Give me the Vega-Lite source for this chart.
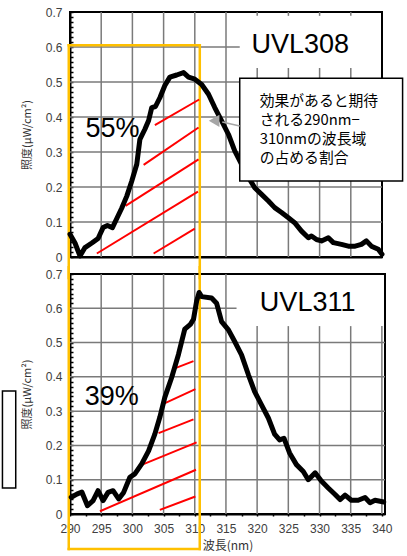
{
  "$schema": "https://vega.github.io/schema/vega-lite/v6.json",
  "padding": {"left": 0, "top": 5, "right": 0, "bottom": 0},
  "spacing": 17,
  "bounds": "flush",
  "config": {
    "font": "Liberation Sans",
    "view": {"stroke": "#000", "strokeWidth": 2},
    "axis": {
      "domainColor": "#000", "domainWidth": 2, "grid": false, "zindex": 1,
      "labelColor": "#404040", "labelFontSize": 12, "labelFont": "Liberation Sans",
      "tickColor": "#000"
    }
  },
  "datasets": {
    "gridTop": [
      {"nm":295,"v":0,"nm2":295,"v2":0.7},{"nm":300,"v":0,"nm2":300,"v2":0.7},{"nm":305,"v":0,"nm2":305,"v2":0.7},{"nm":310,"v":0,"nm2":310,"v2":0.7},{"nm":315,"v":0,"nm2":315,"v2":0.7},
      {"nm":320,"v":0,"nm2":320,"v2":0.54},{"nm":325,"v":0,"nm2":325,"v2":0.54},{"nm":330,"v":0,"nm2":330,"v2":0.54},{"nm":335,"v":0,"nm2":335,"v2":0.54},
      {"nm":320,"v":0.689,"nm2":320,"v2":0.7},{"nm":325,"v":0.689,"nm2":325,"v2":0.7},{"nm":330,"v":0.689,"nm2":330,"v2":0.7},{"nm":335,"v":0.689,"nm2":335,"v2":0.7},
      {"nm":290,"v":0.1,"nm2":340,"v2":0.1},{"nm":290,"v":0.2,"nm2":340,"v2":0.2},{"nm":290,"v":0.3,"nm2":340,"v2":0.3},{"nm":290,"v":0.4,"nm2":340,"v2":0.4},{"nm":290,"v":0.5,"nm2":340,"v2":0.5},{"nm":290,"v":0.6,"nm2":317.2,"v2":0.6}
    ],
    "gridBot": [
      {"nm":295,"v":0,"nm2":295,"v2":0.7},{"nm":300,"v":0,"nm2":300,"v2":0.7},{"nm":305,"v":0,"nm2":305,"v2":0.7},{"nm":310,"v":0,"nm2":310,"v2":0.7},{"nm":315,"v":0,"nm2":315,"v2":0.7},
      {"nm":320,"v":0,"nm2":320,"v2":0.548},{"nm":325,"v":0,"nm2":325,"v2":0.548},{"nm":330,"v":0,"nm2":330,"v2":0.548},{"nm":335,"v":0,"nm2":335,"v2":0.548},{"nm":340,"v":0,"nm2":340,"v2":0.548},
      {"nm":290,"v":0.1,"nm2":340.5,"v2":0.1},{"nm":290,"v":0.2,"nm2":340.5,"v2":0.2},{"nm":290,"v":0.3,"nm2":340.5,"v2":0.3},{"nm":290,"v":0.4,"nm2":340.5,"v2":0.4},{"nm":290,"v":0.5,"nm2":340.5,"v2":0.5},{"nm":290,"v":0.6,"nm2":316.7,"v2":0.6}
    ],
    "top": [
      {"nm":290,"v":0.065},{"nm":290.8,"v":0.04},{"nm":291.6,"v":0.003},{"nm":292.4,"v":0.027},{"nm":293.5,"v":0.04},{"nm":294.5,"v":0.053},{"nm":295.3,"v":0.084},{"nm":296,"v":0.09},{"nm":296.8,"v":0.084},{"nm":297.5,"v":0.11},{"nm":298.3,"v":0.14},{"nm":299.1,"v":0.174},{"nm":299.9,"v":0.217},{"nm":300.7,"v":0.265},{"nm":301.2,"v":0.336},{"nm":302,"v":0.365},{"nm":302.6,"v":0.39},{"nm":303.1,"v":0.427},{"nm":303.7,"v":0.43},{"nm":304.4,"v":0.455},{"nm":305.2,"v":0.49},{"nm":306,"v":0.514},{"nm":307.1,"v":0.52},{"nm":308.2,"v":0.527},{"nm":309,"v":0.514},{"nm":310,"v":0.508},{"nm":311.1,"v":0.493},{"nm":312.2,"v":0.465},{"nm":313.2,"v":0.427},{"nm":314.3,"v":0.389},{"nm":315.4,"v":0.35},{"nm":316.4,"v":0.303},{"nm":317.5,"v":0.265},{"nm":318.6,"v":0.227},{"nm":319.6,"v":0.198},{"nm":320.7,"v":0.179},{"nm":321.8,"v":0.16},{"nm":322.8,"v":0.141},{"nm":323.9,"v":0.127},{"nm":325,"v":0.112},{"nm":326,"v":0.098},{"nm":327.1,"v":0.074},{"nm":328.2,"v":0.055},{"nm":328.7,"v":0.06},{"nm":329.5,"v":0.05},{"nm":330.3,"v":0.046},{"nm":331.4,"v":0.055},{"nm":332.2,"v":0.041},{"nm":333.5,"v":0.036},{"nm":334.6,"v":0.031},{"nm":335.7,"v":0.031},{"nm":336.7,"v":0.036},{"nm":337.5,"v":0.046},{"nm":338.3,"v":0.031},{"nm":339.4,"v":0.022},{"nm":340,"v":0.008}
    ],
    "bot": [
      {"nm":290.2,"v":0.049},{"nm":291.1,"v":0.058},{"nm":291.9,"v":0.064},{"nm":292.8,"v":0.024},{"nm":293.7,"v":0.039},{"nm":294.5,"v":0.068},{"nm":295.3,"v":0.039},{"nm":296.1,"v":0.063},{"nm":296.9,"v":0.068},{"nm":297.8,"v":0.044},{"nm":298.6,"v":0.063},{"nm":299.6,"v":0.107},{"nm":300.4,"v":0.117},{"nm":301.5,"v":0.146},{"nm":302.6,"v":0.184},{"nm":303.6,"v":0.233},{"nm":304.4,"v":0.282},{"nm":305.2,"v":0.34},{"nm":306.3,"v":0.398},{"nm":307.4,"v":0.466},{"nm":308.4,"v":0.539},{"nm":309.3,"v":0.553},{"nm":309.8,"v":0.568},{"nm":310.3,"v":0.621},{"nm":310.7,"v":0.646},{"nm":311.1,"v":0.634},{"nm":312.7,"v":0.63},{"nm":313.5,"v":0.615},{"nm":314.3,"v":0.561},{"nm":315.4,"v":0.537},{"nm":316.4,"v":0.503},{"nm":317.5,"v":0.464},{"nm":318.6,"v":0.406},{"nm":319.6,"v":0.357},{"nm":320.7,"v":0.318},{"nm":321.8,"v":0.28},{"nm":322.8,"v":0.233},{"nm":323.6,"v":0.216},{"nm":324.3,"v":0.221},{"nm":325.2,"v":0.178},{"nm":326.3,"v":0.144},{"nm":327.4,"v":0.124},{"nm":328.2,"v":0.1},{"nm":329.3,"v":0.12},{"nm":330.3,"v":0.096},{"nm":331.4,"v":0.076},{"nm":332.5,"v":0.057},{"nm":333.3,"v":0.042},{"nm":334.1,"v":0.055},{"nm":335.1,"v":0.04},{"nm":336.2,"v":0.04},{"nm":337.3,"v":0.048},{"nm":338.1,"v":0.033},{"nm":338.9,"v":0.04},{"nm":340.3,"v":0.035}
    ],
    "hatchTop": [
      {"nm":294.3,"v":0.01,"nm2":310.5,"v2":0.187},
      {"nm":303.4,"v":0.01,"nm2":310.0,"v2":0.081},
      {"nm":298.9,"v":0.146,"nm2":310.6,"v2":0.279},
      {"nm":301.8,"v":0.263,"nm2":310.6,"v2":0.37},
      {"nm":303.6,"v":0.377,"nm2":310.7,"v2":0.45}
    ],
    "hatchBot": [
      {"nm":294.8,"v":0.008,"nm2":310.2,"v2":0.129},
      {"nm":304.4,"v":0.012,"nm2":310.1,"v2":0.051},
      {"nm":301.2,"v":0.141,"nm2":310.3,"v2":0.209},
      {"nm":304.2,"v":0.236,"nm2":309.8,"v2":0.276},
      {"nm":304.8,"v":0.32,"nm2":310.1,"v2":0.364},
      {"nm":307.1,"v":0.427,"nm2":309.8,"v2":0.446}
    ],
    "orangeTop": [
      {"nm":289.8,"v":0.605,"nm2":310.8,"v2":0.605},
      {"nm":289.8,"v":0.605,"nm2":289.8,"v2":-0.06},
      {"nm":310.8,"v":0.605,"nm2":310.8,"v2":-0.06}
    ],
    "orangeBot": [
      {"nm":289.8,"v":0.72,"nm2":289.8,"v2":-0.102},
      {"nm":310.8,"v":0.72,"nm2":310.8,"v2":-0.102},
      {"nm":289.8,"v":-0.102,"nm2":310.8,"v2":-0.102}
    ],
    "labelsTop": [
      {"nm":296.8,"v":0.366,"label":"55%"},
      {"nm":326.9,"v":0.607,"label":"UVL308"}
    ],
    "labelsBot": [
      {"nm":296.7,"v":0.341,"label":"39%"},
      {"nm":328.1,"v":0.615,"label":"UVL311"}
    ],
    "callout": [{"nm":317.2,"v":0.217,"nm2":343.3,"v2":0.511}],
    "calloutText": [{"nm":320.4,"v":0.467,"label":"効果があると期待\nされる290nm−\n310nmの波長域\nの占める割合"}],
    "arrowLine": [{"nm":314.4,"v":0.386,"nm2":317.2,"v2":0.374}],
    "arrowHead": [{"nm":313.1,"v":0.389}],
    "fragment": [{"nm":279.17,"v":0.076,"nm2":281.3,"v2":0.359}]
  },
  "vconcat": [
    {
      "width": 312,
      "height": 245,
      "encoding": {
        "x": {"field": "nm", "type": "quantitative",
              "scale": {"domain": [290, 340], "nice": false, "zero": false},
              "axis": {"values": [290,295,300,305,310,315,320,325,330,335,340], "labels": false, "ticks": false, "title": null, "grid": false}},
        "y": {"field": "v", "type": "quantitative",
              "scale": {"domain": [0, 0.7], "nice": false, "zero": false},
              "axis": {
                "values": [0,0.01429,0.02857,0.04286,0.05714,0.07143,0.08571,0.1,0.11429,0.12857,0.14286,0.15714,0.17143,0.18571,0.2,0.21429,0.22857,0.24286,0.25714,0.27143,0.28571,0.3,0.31429,0.32857,0.34286,0.35714,0.37143,0.38571,0.4,0.41429,0.42857,0.44286,0.45714,0.47143,0.48571,0.5,0.51429,0.52857,0.54286,0.55714,0.57143,0.58571,0.6,0.61429,0.62857,0.64286,0.65714,0.67143,0.68571,0.7],
                "labelExpr": "abs(datum.value*10-round(datum.value*10))<0.01 ? format(datum.value,'~g') : ''",
                "grid": false,
                "tickSize": -3, "tickWidth": 1.5,
                "labelOverlap": false, "labelFlush": false, "labelPadding": 11,
                "title": "照度(μW/cm²)", "titleFont": "Noto Sans CJK JP", "titleFontSize": 11, "titleFontWeight": "normal", "titleColor": "#333", "titlePadding": 13
              }}
      },
      "layer": [
        {"data": {"name": "gridTop"}, "mark": {"type": "rule", "color": "#7a7a7a", "strokeWidth": 1.5, "opacity": 1}, "encoding": {"x2": {"field": "nm2"}, "y2": {"field": "v2"}}},
        {"data": {"name": "orangeTop"}, "mark": {"type": "rule", "color": "#FFC000", "strokeWidth": 2.5, "strokeCap": "square"}, "encoding": {"x2": {"field": "nm2"}, "y2": {"field": "v2"}}},
        {"data": {"name": "hatchTop"}, "mark": {"type": "rule", "color": "#FF0000", "strokeWidth": 2}, "encoding": {"x2": {"field": "nm2"}, "y2": {"field": "v2"}}},
        {"data": {"name": "top"}, "mark": {"type": "line", "color": "#000", "strokeWidth": 5, "strokeJoin": "round", "strokeCap": "round"}},
        {"data": {"name": "labelsTop"}, "mark": {"type": "text", "fontSize": 27, "font": "Liberation Sans", "color": "#000", "baseline": "middle", "align": "center"}, "encoding": {"text": {"field": "label"}}},
        {"data": {"name": "callout"}, "mark": {"type": "rect", "fill": "white", "stroke": "#000", "strokeWidth": 1.5}, "encoding": {"x2": {"field": "nm2"}, "y2": {"field": "v2"}}},
        {"data": {"name": "arrowLine"}, "mark": {"type": "rule", "color": "#a6a6a6", "strokeWidth": 1.5}, "encoding": {"x2": {"field": "nm2"}, "y2": {"field": "v2"}}},
        {"data": {"name": "arrowHead"}, "mark": {"type": "point", "shape": "triangle-left", "filled": true, "color": "#a6a6a6", "size": 150, "opacity": 1}},
        {"data": {"name": "calloutText"}, "mark": {"type": "text", "fontSize": 14.8, "font": "Noto Sans CJK JP", "color": "#000", "baseline": "top", "align": "left", "lineBreak": "\n", "lineHeight": 19}, "encoding": {"text": {"field": "label"}}}
      ]
    },
    {
      "width": 315,
      "height": 240,
      "encoding": {
        "x": {"field": "nm", "type": "quantitative",
              "scale": {"domain": [290, 340.5], "nice": false, "zero": false},
              "axis": {
                "values": [290,292.5,295,297.5,300,302.5,305,307.5,310,312.5,315,317.5,320,322.5,325,327.5,330,332.5,335,337.5,340],
                "labelExpr": "datum.value % 5 === 0 ? format(datum.value,'d') : ''",
                "grid": false,
                "tickSize": 2, "tickWidth": 1.5,
                "labelDx": 4, "labelPadding": 7, "labelFlush": false, "labelOverlap": false,
                "title": "波長(nm)", "titleFont": "Noto Sans CJK JP", "titleFontSize": 12, "titleFontWeight": "normal", "titleColor": "#333", "titlePadding": 6
              }},
        "y": {"field": "v", "type": "quantitative",
              "scale": {"domain": [0, 0.7], "nice": false, "zero": false},
              "axis": {
                "values": [0,0.01429,0.02857,0.04286,0.05714,0.07143,0.08571,0.1,0.11429,0.12857,0.14286,0.15714,0.17143,0.18571,0.2,0.21429,0.22857,0.24286,0.25714,0.27143,0.28571,0.3,0.31429,0.32857,0.34286,0.35714,0.37143,0.38571,0.4,0.41429,0.42857,0.44286,0.45714,0.47143,0.48571,0.5,0.51429,0.52857,0.54286,0.55714,0.57143,0.58571,0.6,0.61429,0.62857,0.64286,0.65714,0.67143,0.68571,0.7],
                "labelExpr": "abs(datum.value*10-round(datum.value*10))<0.01 ? format(datum.value,'~g') : ''",
                "grid": false,
                "tickSize": -3, "tickWidth": 1.5,
                "labelOverlap": false, "labelFlush": false, "labelPadding": 11,
                "title": "照度(μW/cm²)", "titleFont": "Noto Sans CJK JP", "titleFontSize": 11, "titleFontWeight": "normal", "titleColor": "#333", "titlePadding": 13
              }}
      },
      "layer": [
        {"data": {"name": "fragment"}, "mark": {"type": "rect", "fill": "white", "stroke": "#000", "strokeWidth": 1.5}, "encoding": {"x2": {"field": "nm2"}, "y2": {"field": "v2"}}},
        {"data": {"name": "gridBot"}, "mark": {"type": "rule", "color": "#7a7a7a", "strokeWidth": 1.5, "opacity": 1}, "encoding": {"x2": {"field": "nm2"}, "y2": {"field": "v2"}}},
        {"data": {"name": "orangeBot"}, "mark": {"type": "rule", "color": "#FFC000", "strokeWidth": 2.5, "strokeCap": "square"}, "encoding": {"x2": {"field": "nm2"}, "y2": {"field": "v2"}}},
        {"data": {"name": "hatchBot"}, "mark": {"type": "rule", "color": "#FF0000", "strokeWidth": 2}, "encoding": {"x2": {"field": "nm2"}, "y2": {"field": "v2"}}},
        {"data": {"name": "bot"}, "mark": {"type": "line", "color": "#000", "strokeWidth": 5, "strokeJoin": "round", "strokeCap": "round"}},
        {"data": {"name": "labelsBot"}, "mark": {"type": "text", "fontSize": 27, "font": "Liberation Sans", "color": "#000", "baseline": "middle", "align": "center"}, "encoding": {"text": {"field": "label"}}}
      ]
    }
  ]
}
